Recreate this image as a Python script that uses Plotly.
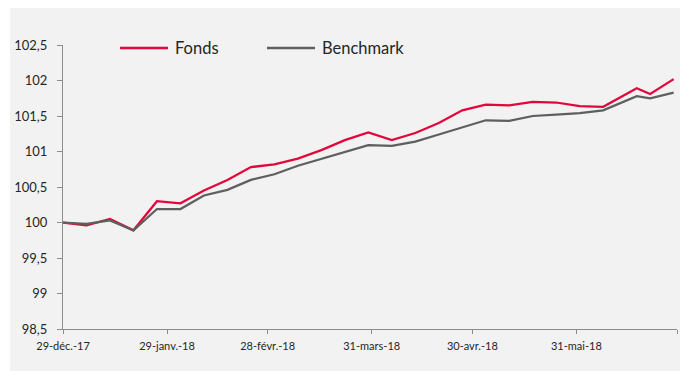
import plotly.graph_objects as go

# Weekly valuation dates (base 100 on 29 Dec 2017)
dates = [
    "2017-12-29", "2018-01-05", "2018-01-12", "2018-01-19", "2018-01-26",
    "2018-02-02", "2018-02-09", "2018-02-16", "2018-02-23", "2018-03-02",
    "2018-03-09", "2018-03-16", "2018-03-23", "2018-03-30", "2018-04-06",
    "2018-04-13", "2018-04-20", "2018-04-27", "2018-05-04", "2018-05-11",
    "2018-05-18", "2018-05-25", "2018-06-01", "2018-06-08", "2018-06-18",
    "2018-06-22", "2018-06-29",
]

fonds = [
    100.00, 99.96, 100.05, 99.89, 100.30,
    100.27, 100.45, 100.60, 100.78, 100.82,
    100.90, 101.02, 101.16, 101.27, 101.16,
    101.26, 101.40, 101.58, 101.66, 101.65,
    101.70, 101.69, 101.64, 101.63, 101.89,
    101.81, 102.02,
]

benchmark = [
    100.00, 99.98, 100.03, 99.89, 100.19,
    100.19, 100.38, 100.46, 100.60, 100.68,
    100.80, 100.90, 101.00, 101.09, 101.08,
    101.14, 101.24, 101.34, 101.44, 101.43,
    101.50, 101.52, 101.54, 101.58, 101.78,
    101.75, 101.83,
]

series_names = ["Fonds", "Benchmark"]

y_ticks = [98.5, 99, 99.5, 100, 100.5, 101, 101.5, 102, 102.5]
y_tick_labels = ["98,5", "99", "99,5", "100", "100,5", "101", "101,5", "102", "102,5"]

x_ticks = ["2017-12-29", "2018-01-29", "2018-02-28", "2018-03-31",
           "2018-04-30", "2018-05-31", "2018-06-30"]
x_tick_labels = ["29-déc.-17", "29-janv.-18", "28-févr.-18", "31-mars-18",
                 "30-avr.-18", "31-mai-18", ""]

RED = "#E3063A"
GREY = "#5F5F5F"
AXIS = "#8C8C8C"
BG = "#F2F2F2"
TEXT = "#262626"

W, H = 680, 371
ML, MR, MT, MB = 63, 3, 45, 42
PW, PH = W - ML - MR, H - MT - MB


def px_x(px):
    return (px - ML) / PW


def px_y(py):
    return (MT + PH - py) / PH


fig = go.Figure()
colors = [RED, GREY]
for name, values, color in zip(series_names, [fonds, benchmark], colors):
    fig.add_trace(go.Scatter(x=dates, y=values, name=name, mode="lines",
                             line=dict(color=color, width=2.25)))

# light grey chart panel with a thin white edge on the left and top
fig.add_shape(type="rect", xref="paper", yref="paper", layer="below",
              x0=px_x(10), x1=px_x(W), y0=px_y(H), y1=px_y(8),
              fillcolor=BG, line=dict(width=0))

# legend drawn as long line swatches followed by the series name
legend_starts = [120, 267]
for name, color, start in zip(series_names, colors, legend_starts):
    fig.add_shape(type="line", xref="paper", yref="paper",
                  x0=px_x(start), x1=px_x(start + 48), y0=px_y(48), y1=px_y(48),
                  line=dict(color=color, width=2.5))
    fig.add_annotation(xref="paper", yref="paper", x=px_x(start + 53), y=px_y(48),
                       xanchor="left", yanchor="middle", showarrow=False,
                       text=name, font=dict(size=16.5, color=TEXT))

fig.update_layout(
    width=W, height=H,
    margin=dict(l=ML, r=MR, t=MT, b=MB),
    paper_bgcolor="white",
    plot_bgcolor=BG,
    font=dict(family="Lato, sans-serif", color=TEXT),
    showlegend=False,
    xaxis=dict(type="date", range=["2017-12-29", "2018-06-30"],
               tickvals=x_ticks, ticktext=x_tick_labels,
               showgrid=False, zeroline=False,
               showline=True, linecolor=AXIS, linewidth=1.3,
               ticks="outside", ticklen=4, tickcolor=AXIS, tickwidth=1.3,
               ticklabelstandoff=3,
               tickfont=dict(size=11, color=TEXT)),
    yaxis=dict(range=[98.5, 102.5], tickvals=y_ticks, ticktext=y_tick_labels,
               showgrid=False, zeroline=False,
               showline=True, linecolor=AXIS, linewidth=1.3,
               ticks="outside", ticklen=5, tickcolor=AXIS, tickwidth=1.3,
               ticklabelstandoff=7,
               tickfont=dict(size=13, color=TEXT)),
)

fig.write_html("out.html")
